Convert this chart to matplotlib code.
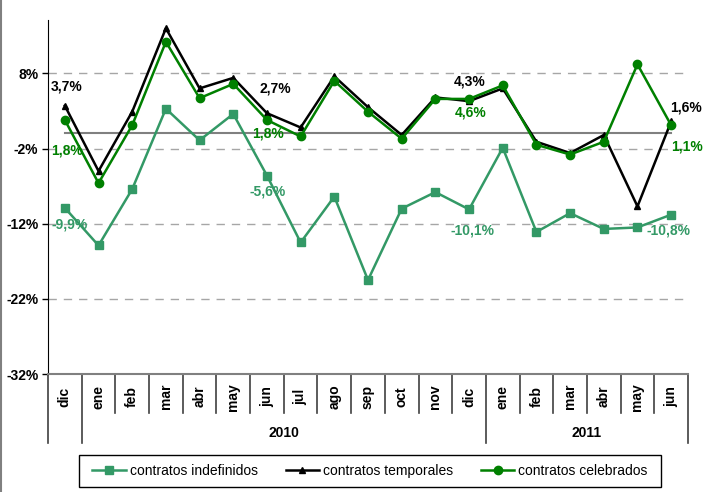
import numpy as np
import matplotlib
matplotlib.use('Agg')
import matplotlib.pyplot as plt
import matplotlib.transforms as mtransforms
from matplotlib.lines import Line2D
from matplotlib.patches import Rectangle

plt.rcParams['font.family'] = ['Liberation Sans', 'DejaVu Sans']

months = ['dic', 'ene', 'feb', 'mar', 'abr', 'may', 'jun', 'jul', 'ago', 'sep', 'oct', 'nov', 'dic',
          'ene', 'feb', 'mar', 'abr', 'may', 'jun']
years = ['2010', '2011']
year_spans = [(1, 12), (13, 18)]

indefinidos = [-9.9, -14.9, -7.4, 3.3, -0.9, 2.6, -5.6, -14.5, -8.4, -19.5, -10.0, -7.8, -10.1,
               -1.9, -13.1, -10.6, -12.7, -12.5, -10.8]
temporales = [3.7, -5.0, 2.9, 14.0, 6.0, 7.4, 2.7, 0.8, 7.6, 3.5, -0.2, 4.8, 4.3,
              6.0, -1.1, -2.6, -0.2, -9.7, 1.6]
celebrados = [1.8, -6.6, 1.1, 12.2, 4.7, 6.6, 1.8, -0.4, 7.0, 2.9, -0.7, 4.6, 4.6,
              6.4, -1.5, -2.8, -1.1, 9.2, 1.1]

# labelled points and label offsets in pixels
label_idx = [0, 6, 12, 18]
temp_off = [(2, 19), (8, 25), (1, 20), (15, 14)]
cele_off = [(2, -31), (1, -14), (2, -14), (16, -21)]
inde_off = [(5, -17), (1, -16), (3, -21), (-3, -16)]

c_ind = '#339966'
c_tem = '#000000'
c_cel = '#008000'

fig = plt.figure(figsize=(7.28, 4.92), dpi=100)
ax = fig.add_axes([48 / 728, 1 - 374 / 492, 640 / 728, 354 / 492])

x = np.arange(len(months))
ax.plot(x, np.zeros(len(x)), color='#808080', lw=1.5, zorder=2)
ax.plot(x, indefinidos, color=c_ind, marker='s', ms=5.5, lw=1.8, zorder=3,
        label='contratos indefinidos')
ax.plot(x, temporales, color=c_tem, marker='^', ms=4, lw=1.8, zorder=4,
        label='contratos temporales')
ax.plot(x, celebrados, color=c_cel, marker='o', ms=6, lw=1.8, zorder=5,
        label='contratos celebrados')


def fmt(v):
    return ('%.1f%%' % v).replace('.', ',')


for k, i in enumerate(label_idx):
    for series, offs, col in ((temporales, temp_off, c_tem), (celebrados, cele_off, c_cel),
                              (indefinidos, inde_off, c_ind)):
        ax.annotate(fmt(series[i]), (i, series[i]), xytext=offs[k], textcoords='offset pixels',
                    ha='center', va='center', fontsize=10, fontweight='bold', color=col,
                    zorder=6)

ax.set_xlim(-0.5, len(months) - 0.5)
ax.set_ylim(-32, 15.1)
yt = [-32, -22, -12, -2, 8]
ax.set_yticks(yt)
ax.set_yticklabels(['%d%%' % v for v in yt], fontsize=10, fontweight='bold')
for v in yt[1:]:
    ax.axhline(v, xmax=(686 - 48) / 640, color='#a6a6a6', lw=1, dashes=(6, 5), zorder=1)
ax.tick_params(axis='y', length=4, width=1, pad=3, color='black')
ax.set_xticks([])
for s in ['top', 'right']:
    ax.spines[s].set_visible(False)
ax.spines['left'].set_color('black')
ax.spines['bottom'].set_color('#808080')
ax.spines['bottom'].set_linewidth(1.5)

trans = mtransforms.blended_transform_factory(ax.transData, ax.transAxes)
long_seps = [-0.5, 0.5, 12.5, len(months) - 0.5]
for b in np.arange(-0.5, len(months), 1.0):
    y_end = -0.195 if b in long_seps else -0.110
    ax.add_line(Line2D([b, b], [0, y_end], transform=trans, color='#404040', lw=1.2,
                       clip_on=False))
for i, m in enumerate(months):
    ax.text(i, -0.064, m, transform=trans, rotation=90, ha='center', va='center',
            fontsize=10, fontweight='bold')
for yr, (a, b) in zip(years, year_spans):
    ax.text((a + b) / 2, -0.167, yr, transform=trans, ha='center', va='center',
            fontsize=10, fontweight='bold')

leg = fig.legend(loc='center', bbox_to_anchor=(370 / 728, 1 - 471 / 492), ncol=3,
                 fontsize=10, frameon=False, handlelength=2.4,
                 handletextpad=0.3, columnspacing=2.0)
# legend box drawn by hand (wider side padding than matplotlib's)
fig.add_artist(Rectangle((79 / 728, 1 - 487 / 492), 582 / 728, 32 / 492,
                         transform=fig.transFigure, fill=False, edgecolor='black', lw=1))

fig.add_artist(Line2D([0.5 / 728, 0.5 / 728], [0, 1], transform=fig.transFigure,
                      color='#808080', lw=1.5))

fig.savefig('out.png', dpi=100)
